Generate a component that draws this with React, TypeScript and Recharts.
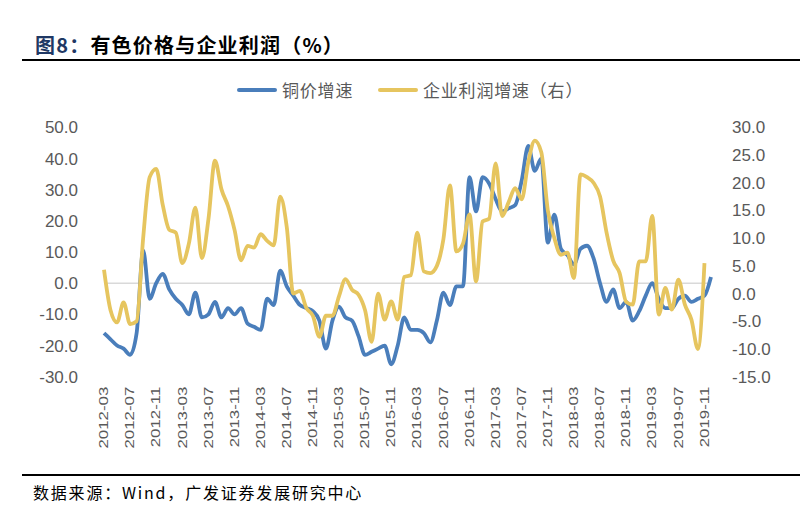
import { LineChart, Line, XAxis, YAxis, ReferenceLine } from 'recharts';

// 铜价增速（左轴，%），2012-03 至 2019-12
const COPPER = [
  -16, -18, -20, -21, -23, -16, 10.5, -5, 0, 3,
  -2, -5, -7, -10, -3, -11, -10, -6, -11, -8,
  -10, -8, -13, -14, -15, -5, -7, 4, -1, -4,
  -7, -8, -9, -12, -21, -12, -7.5, -11, -12, -17,
  -23, -22, -21, -20, -26, -20, -11, -15, -15, -16,
  -19, -12, -3, -7, -1, -1, 34, 23, 34, 32,
  27, 23, 24, 25, 33, 44, 36, 40, 13, 22,
  11, 9, 6, 11, 12, 8, 0, -6, -2, -8,
  -6, -12, -9, -4, 0, -5, -8, -8, -5, -4,
  -6, -5, -4, 2,
];

// 企业利润增速（右轴，%），2012-03 至 2019-11
const PROFIT = [
  4.3, -3, -5.2, -1.6, -5.5, -5, 10, 21, 22.5, 16,
  11.5, 11, 5.5, 9, 15.5, 6.4, 13.4, 24, 18.8, 15.8,
  11.5, 6, 8.6, 8.3, 10.7, 9.5, 8.7, 17.5, 12, 0,
  0.5, -2.6, -4, -7.8, -4, -4, -0.5, 2.6, 0.7, -0.2,
  -3, -8.7, 0, -4.7, -1.4, -4.7, 3, 3.3, 11, 4,
  3.7, 5, 9.8, 19.5, 7.6, 9, 14.3, 2.2, 13, 13.5,
  23.5, 14, 16.5, 19, 17, 23.7, 27.6, 25.5, 15, 10,
  7, 7.4, 2.8, 21.5, 21, 20, 17.5, 11, 6, 3.7,
  -1.5, -2, 5.8, 5.8, 14, -3.8, 1, -2.9, 2.5, -2,
  -4.7, -10, 5.5,
];

const X_TICKS = [
  '2012-03', '2012-07', '2012-11', '2013-03', '2013-07', '2013-11',
  '2014-03', '2014-07', '2014-11', '2015-03', '2015-07', '2015-11',
  '2016-03', '2016-07', '2016-11', '2017-03', '2017-07', '2017-11',
  '2018-03', '2018-07', '2018-11', '2019-03', '2019-07', '2019-11',
];
const LEFT_TICKS = [-30, -20, -10, 0, 10, 20, 30, 40, 50];
const RIGHT_TICKS = [-15, -10, -5, 0, 5, 10, 15, 20, 25, 30];

const START_YEAR = 2012;
const START_MONTH = 3;

const BLUE = '#4A7EBB';
const YELLOW = '#E6C55F';
const AXIS_TEXT = '#595959';

const SERIES = [
  { key: 'copper', name: '铜价增速', color: BLUE, axis: 'left', legendLeft: 237 },
  { key: 'profit', name: '企业利润增速（右）', color: YELLOW, axis: 'right', legendLeft: 378 },
];

const monthLabel = (i: number) => {
  const m = START_MONTH - 1 + i;
  const y = START_YEAR + Math.floor(m / 12);
  return `${y}-${String((m % 12) + 1).padStart(2, '0')}`;
};

const chartData = COPPER.map((v, i) => ({
  month: monthLabel(i),
  copper: v,
  profit: i < PROFIT.length ? PROFIT[i] : null,
}));

const XTick = ({ x, y, payload }: any) => (
  <text
    transform={`translate(${x},${y}) rotate(-90) scale(1.35,1)`}
    textAnchor="end"
    dominantBaseline="central"
    fontSize={12.5}
    fill={AXIS_TEXT}
    fontFamily="'Liberation Sans', Arial, sans-serif"
  >
    {payload.value}
  </text>
);

const ChartLegend = () => (
  <div style={{ position: 'absolute', left: 0, top: 80, width: 800, height: 20 }}>
    {SERIES.map((s) => (
      <div
        key={s.key}
        style={{
          position: 'absolute',
          left: s.legendLeft,
          top: 0,
          display: 'flex',
          alignItems: 'center',
          height: 20,
          whiteSpace: 'nowrap',
        }}
      >
        <span style={{ display: 'inline-block', width: 40, height: 4.5, borderRadius: 2, background: s.color, marginRight: 5 }} />
        <span
          style={{
            fontSize: 17,
            letterSpacing: 0.8,
            color: AXIS_TEXT,
            fontFamily: "'Noto Sans CJK SC', sans-serif",
            lineHeight: '20px',
          }}
        >
          {s.name}
        </span>
      </div>
    ))}
  </div>
);

const App = () => {
  return (
    <div style={{ position: 'absolute', left: 0, top: 0, width: 800, height: 531, background: '#fff', overflow: 'hidden' }}>
      <div
        style={{
          position: 'absolute',
          left: 35,
          top: 33,
          fontSize: 20,
          lineHeight: '24px',
          fontWeight: 700,
          letterSpacing: 1.2,
          fontFamily: "'Noto Sans CJK SC', sans-serif",
          color: '#000',
          whiteSpace: 'nowrap',
        }}
      >
        <span style={{ color: '#1F3864' }}>图8：</span>有色价格与企业利润（%）
      </div>
      <div style={{ position: 'absolute', left: 22, top: 59, width: 778, height: 2, background: '#000' }} />

      <ChartLegend />

      <div style={{ position: 'absolute', left: 0, top: 0 }}>
        <LineChart width={800} height={531} data={chartData} margin={{ top: 127.3, right: 0, bottom: 0, left: 0 }}>
          <XAxis
            dataKey="month"
            ticks={X_TICKS}
            interval={0}
            height={154.3}
            axisLine={false}
            tickLine={false}
            tickSize={0}
            tickMargin={10}
            tick={<XTick />}
          />
          <YAxis
            yAxisId="left"
            orientation="left"
            width={104}
            domain={[-30, 50]}
            ticks={LEFT_TICKS}
            axisLine={false}
            tickLine={false}
            tickSize={0}
            tickMargin={26}
            tickFormatter={(v: number) => v.toFixed(1)}
            tick={{ fontSize: 17, fill: AXIS_TEXT, fontFamily: "'Liberation Sans', Arial, sans-serif" }}
          />
          <YAxis
            yAxisId="right"
            orientation="right"
            width={89}
            domain={[-15, 30]}
            ticks={RIGHT_TICKS}
            axisLine={false}
            tickLine={false}
            tickSize={0}
            tickMargin={21}
            tickFormatter={(v: number) => v.toFixed(1)}
            tick={{ fontSize: 17, fill: AXIS_TEXT, fontFamily: "'Liberation Sans', Arial, sans-serif" }}
          />
          <ReferenceLine yAxisId="left" y={0} stroke="#D9D9D9" strokeWidth={1.5} />
          {SERIES.map((s) => (
            <Line
              key={s.key}
              yAxisId={s.axis}
              type="monotone"
              dataKey={s.key}
              name={s.name}
              stroke={s.color}
              strokeWidth={3.8}
              dot={false}
              isAnimationActive={false}
            />
          ))}
        </LineChart>
      </div>

      <div style={{ position: 'absolute', left: 22, top: 474, width: 778, height: 2, background: '#000' }} />
      <div
        style={{
          position: 'absolute',
          left: 33,
          top: 483,
          fontSize: 16,
          lineHeight: '18px',
          letterSpacing: 1.8,
          fontFamily: "'Noto Sans CJK SC', sans-serif",
          color: '#000',
          whiteSpace: 'nowrap',
        }}
      >
        数据来源：Wind，广发证券发展研究中心
      </div>
    </div>
  );
};

export default App;
